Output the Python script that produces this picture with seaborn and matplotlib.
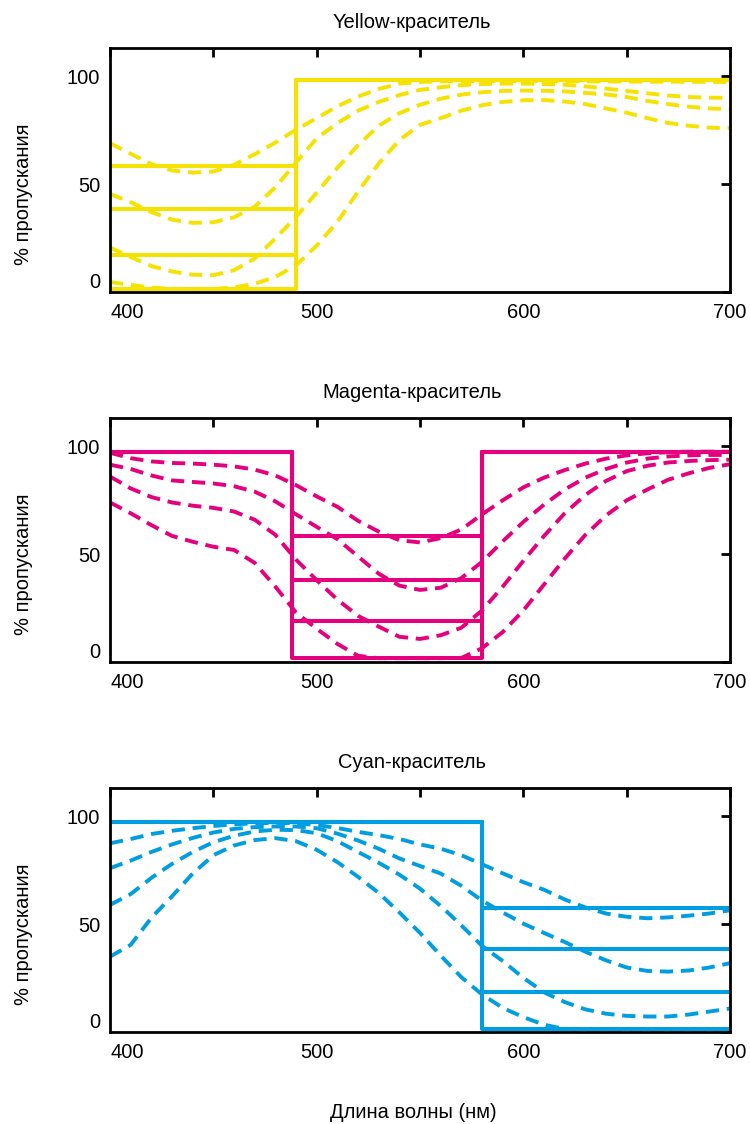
import matplotlib
matplotlib.use("Agg")
import matplotlib.pyplot as plt
from matplotlib.ticker import MultipleLocator, FixedLocator
import seaborn as sns

# ---------------- data ----------------
wavelength = [400, 410, 420, 430, 440, 450, 460, 470, 480, 490, 500,
              510, 520, 530, 540, 550, 560, 570, 580, 590, 600,
              610, 620, 630, 640, 650, 660, 670, 680, 690, 700]

# Yellow dye: measured transmission curves (dashed)
yellow_1 = [68.9, 64.0, 59.2, 56.3, 55.3, 55.8, 58.9, 63.8, 69.2, 75.2, 80.5,
            86.0, 90.5, 94.0, 96.5, 97.3, 97.6, 97.7, 97.7, 97.7, 97.7,
            97.7, 97.6, 97.6, 97.5, 97.5, 97.4, 97.4, 97.4, 97.3, 97.3]
yellow_2 = [45.4, 41.6, 37.0, 33.5, 32.0, 32.3, 34.6, 39.5, 48.5, 60.0, 71.2,
            78.2, 84.0, 88.0, 91.2, 93.6, 94.8, 95.8, 96.3, 96.5, 96.5,
            96.3, 96.0, 95.2, 94.2, 93.1, 92.0, 91.0, 90.3, 90.0, 89.9]
yellow_3 = [20.6, 16.2, 12.0, 9.5, 8.0, 7.8, 10.1, 15.5, 24.8, 34.8, 46.0,
            57.5, 68.0, 77.0, 82.8, 86.7, 89.5, 91.4, 92.5, 93.1, 93.3,
            93.2, 92.9, 92.2, 91.5, 90.3, 88.5, 87.0, 85.8, 85.0, 84.7]
yellow_4 = [4.6, 3.3, 2.0, 1.5, 1.2, 1.4, 2.1, 3.8, 7.0, 12.4, 21.5,
            32.5, 46.5, 59.5, 70.4, 77.4, 80.5, 84.0, 86.5, 88.0, 88.8,
            88.9, 88.2, 87.0, 85.0, 83.0, 80.5, 78.3, 77.0, 76.1, 75.9]
# Yellow dye: ideal block filters (solid)
yellow_edges = [400, 490, 700]
yellow_levels = [58.4, 38.4, 17.0, 1.6]
yellow_high = 98.0

# Magenta dye
magenta_1 = [97.0, 94.5, 93.0, 92.3, 92.0, 91.5, 90.7, 89.2, 86.5, 82.0, 76.8,
             72.0, 65.5, 60.5, 56.5, 55.5, 57.5, 61.5, 68.5, 75.0, 81.0,
             85.5, 89.0, 92.0, 94.3, 95.8, 96.8, 97.3, 97.5, 97.5, 97.5]
magenta_2 = [91.5, 89.5, 86.5, 84.2, 83.5, 82.8, 81.5, 79.0, 74.5, 68.5, 62.7,
             57.0, 49.0, 41.0, 35.5, 33.5, 34.5, 39.0, 46.5, 56.0, 65.0,
             73.0, 80.0, 85.5, 89.5, 92.5, 94.3, 95.3, 95.8, 96.0, 96.0]
magenta_3 = [86.0, 80.5, 76.5, 74.0, 72.5, 71.5, 69.8, 66.0, 59.0, 47.5, 38.0,
             29.0, 21.5, 16.5, 11.8, 10.8, 12.5, 16.0, 24.0, 35.0, 47.0,
             58.5, 69.0, 77.5, 84.0, 88.5, 91.0, 92.5, 93.2, 93.6, 93.8]
magenta_4 = [74.0, 69.0, 63.5, 58.5, 55.8, 53.5, 52.0, 46.0, 35.0, 23.0, 15.5,
             8.5, 3.0, 1.9, 1.9, 1.9, 1.9, 2.0, 6.5, 14.0, 24.0,
             36.0, 48.0, 59.0, 68.0, 75.0, 80.0, 84.5, 87.5, 90.0, 91.7]
magenta_edges = [400, 488, 580, 700]
magenta_levels = [58.5, 38.0, 19.1, 1.85]
magenta_high = 97.5

# Cyan dye
cyan_1 = [87.5, 89.5, 91.8, 93.3, 94.5, 95.5, 96.3, 96.8, 97.0, 96.8, 96.0,
          94.6, 92.8, 91.3, 89.5, 87.0, 85.0, 82.0, 77.8, 73.6, 69.5,
          66.0, 61.5, 57.8, 55.0, 53.5, 52.8, 53.2, 54.0, 55.0, 56.5]
cyan_2 = [76.0, 79.5, 83.5, 87.0, 90.0, 92.5, 94.2, 95.0, 95.3, 95.3, 94.5,
          92.0, 88.8, 85.0, 80.5, 77.0, 73.5, 67.8, 61.0, 55.5, 50.3,
          46.0, 41.8, 37.3, 33.3, 30.0, 28.4, 28.1, 28.6, 30.0, 32.0]
cyan_3 = [59.0, 64.0, 71.5, 78.0, 83.5, 88.0, 91.0, 93.0, 93.8, 93.6, 92.2,
          88.5, 83.5, 78.5, 73.0, 66.5, 58.5, 49.5, 40.0, 33.0, 25.2,
          18.5, 14.0, 10.6, 8.6, 7.6, 7.3, 7.3, 8.2, 9.6, 11.0]
cyan_4 = [35.0, 40.5, 53.0, 63.0, 73.5, 82.0, 86.5, 89.0, 89.9, 88.5, 84.5,
          78.8, 72.0, 64.5, 55.5, 46.0, 35.5, 25.5, 17.5, 11.3, 7.0,
          3.5, 1.5, 0.5, 0.0, 0.0, 0.0, 0.0, 0.0, 0.0, 0.0]
cyan_edges = [400, 580, 700]
cyan_levels = [57.4, 38.4, 18.5, 1.4]
cyan_high = 97.3

titles = ["Yellow-краситель", "Magenta-краситель", "Cyan-краситель"]
x_ticks = [400, 500, 600, 700]
y_ticks = [0, 50, 100]
y_label = "% пропускания"
x_label = "Длина волны (нм)"

# ---------------- style ----------------
sns.set_style("white")
plt.rcParams["font.family"] = ["Liberation Sans", "DejaVu Sans"]
FS = 14.5

YELLOW = "#F6E200"
MAGENTA = "#E5007E"
CYAN = "#009EE0"

fig = plt.figure(figsize=(7.5, 11.24), dpi=100)
left, width, height = 0.1467, 0.8267, 0.2171
bottoms = [0.7402, 0.4108, 0.0816]

panels = [
    (YELLOW, [yellow_1, yellow_2, yellow_3, yellow_4],
     [[lv, yellow_high, yellow_high] for lv in yellow_levels], yellow_edges),
    (MAGENTA, [magenta_1, magenta_2, magenta_3, magenta_4],
     [[magenta_high, lv, magenta_high, magenta_high] for lv in magenta_levels], magenta_edges),
    (CYAN, [cyan_1, cyan_2, cyan_3, cyan_4],
     [[cyan_high, lv, lv] for lv in cyan_levels], cyan_edges),
]

DASH = (0, (3.4, 2.0))

for i, (color, dashed, solids, edges) in enumerate(panels):
    ax = fig.add_axes([left, bottoms[i], width, height])
    for curve in dashed:
        sns.lineplot(x=wavelength, y=curve, ax=ax, color=color, lw=2.8,
                     linestyle=DASH, errorbar=None, legend=False)
    for s in solids:
        sns.lineplot(x=edges, y=s, ax=ax, color=color, lw=2.9,
                     drawstyle="steps-post", errorbar=None, legend=False)
    ax.set_xlim(400, 700)
    ax.set_ylim(0, 113)
    ax.xaxis.set_major_locator(FixedLocator(x_ticks))
    ax.xaxis.set_minor_locator(MultipleLocator(50))
    ax.yaxis.set_major_locator(FixedLocator(y_ticks))
    ax.set_xticklabels([str(t) for t in x_ticks])
    ax.set_yticklabels([str(t) for t in y_ticks])
    ax.tick_params(which="both", direction="in", top=True, right=True,
                   length=6.5, width=2, color="black")
    ax.tick_params(axis="x", which="major", labelsize=FS, pad=8, labelcolor="black")
    ax.tick_params(axis="y", which="major", labelsize=FS, pad=7, labelcolor="black")
    # first labels nudged inside, as in the reference
    ax.get_xticklabels()[0].set_ha("left")
    ax.get_yticklabels()[0].set_va("bottom")
    for sp in ax.spines.values():
        sp.set_visible(True)
        sp.set_color("black")
        sp.set_linewidth(2.0)
    ax.set_xlabel("")
    ax.set_ylabel(y_label, fontsize=FS, color="black")
    ax.yaxis.set_label_coords(-0.125, 0.40)
    ax.set_title(titles[i], fontsize=FS, pad=14.5, x=0.487, color="black")

fig.text(413 / 750, 1 - 1112 / 1124, x_label, fontsize=FS,
         ha="center", va="center", color="black")

fig.savefig("out.png", dpi=100, facecolor="white")
